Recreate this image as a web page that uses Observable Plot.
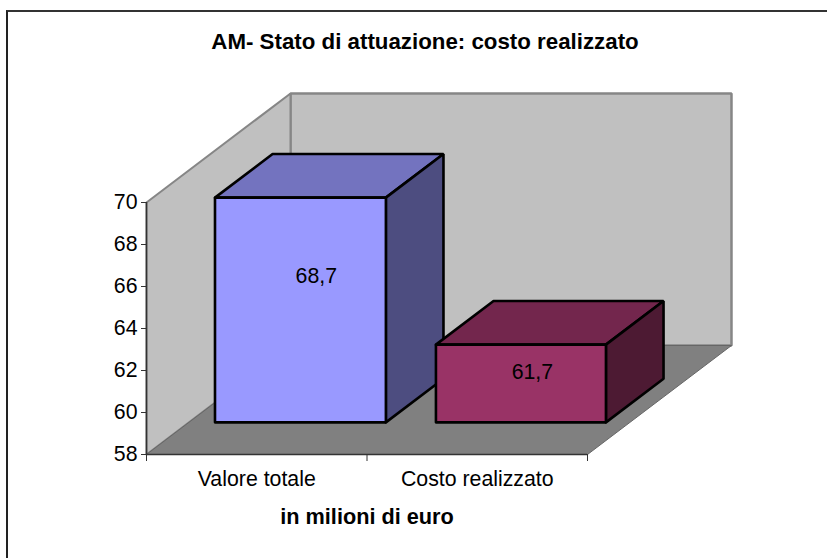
<!DOCTYPE html>
<html>
<head>
<meta charset="utf-8">
<script src="https://cdn.jsdelivr.net/npm/d3@7"></script>
<script src="https://cdn.jsdelivr.net/npm/@observablehq/plot@0.6"></script>
<style>
  html, body { margin: 0; padding: 0; background: #fff; overflow: hidden; }
  #box { position: absolute; left: 6px; top: 10px; right: -4px; bottom: -4px; border-left: 2px solid #222; border-top: 2px solid #333; }
  #chart { position: absolute; left: 0; top: 0; }
  svg { display: block; background: transparent !important; }
</style>
</head>
<body>
<div id="box"></div>
<div id="chart"></div>
<script>
const categories = ["Valore totale", "Costo realizzato"];
const values = [68.7, 61.7];
const yTicks = [58, 60, 62, 64, 66, 68, 70];
const xTicks = [0, 1, 2];
const title = "AM- Stato di attuazione: costo realizzato";
const xLabel = "in milioni di euro";

// Oblique projection: one unit of depth, in units of the x and y scales
const depthX = 0.653, depthY = 5.19;
const barDepth = [0.295, 0.695];
const barSpans = [[0.118, 0.893], [1.12, 1.891]];
const barLabelX = [0.77, 1.75];
const barLabelY = [66.48, 61.9];

const faces = [
  {front: "#9999ff", top: "#7373bf", side: "#4d4d80"},
  {front: "#993366", top: "#73264d", side: "#4d1a33"}
];

const P = (x, y, d) => ({x: x + d * depthX, y: y + d * depthY});
const poly = (pts, fill, stroke, strokeWidth) =>
  Plot.line([...pts, pts[0]], {x: "x", y: "y", fill, stroke, strokeWidth, strokeLinejoin: "miter", curve: "linear"});

const [d0, d1] = barDepth;
const marks = [
  // back wall, side wall, floor
  poly([P(0,58,1), P(0,70,1), P(2,70,1), P(2,58,1)], "#c0c0c0", "#868686", 2.5),
  poly([P(0,58,0), P(0,70,0), P(0,70,1), P(0,58,1)], "#c0c0c0", "#868686", 2),
  poly([P(0,58,0), P(0,58,1), P(2,58,1), P(2,58,0)], "#808080", "#666666", 1),
];

values.forEach((v, i) => {
  const [a, b] = barSpans[i];
  const c = faces[i];
  marks.push(
    poly([P(a,v,d0), P(a,v,d1), P(b,v,d1), P(b,v,d0)], c.top, "#000", 2.6),
    poly([P(b,58,d0), P(b,v,d0), P(b,v,d1), P(b,58,d1)], c.side, "#000", 2.6),
    poly([P(a,58,d0), P(a,v,d0), P(b,v,d0), P(b,58,d0)], c.front, "#000", 2.6)
  );
});

marks.push(
  Plot.text(values, {
    x: (d, i) => barLabelX[i], y: (d, i) => barLabelY[i],
    text: d => String(d).replace(".", ","), fontSize: 21.3, fill: "#000"
  }),
  Plot.ruleX([0], {y1: 58, y2: 70, stroke: "#333", strokeWidth: 1.5}),
  Plot.ruleY([58], {x1: 0, x2: 2, stroke: "#333", strokeWidth: 1.5}),
  Plot.axisY({ticks: yTicks, tickSize: 5, tickPadding: 4, fontSize: 21.3, tickFormat: d => String(d), label: null, stroke: "#333", color: "#000"}),
  Plot.axisX({ticks: xTicks, tickSize: 7, tickFormat: () => "", label: null, stroke: "#333"}),
  Plot.text(categories, {x: (d, i) => i + 0.5, y: 58, dy: 25, fontSize: 21.3, fill: "#000"}),
  Plot.text([xLabel], {x: 1, y: 58, dy: 63, fontSize: 21.7, fontWeight: "bold", fill: "#000"}),
  Plot.text([title], {x: 1, y: 70, dx: 58, dy: -161, fontSize: 22.3, fontWeight: "bold", fill: "#000"})
);

const chart = Plot.plot({
  width: 827,
  height: 558,
  marginLeft: 146,
  marginRight: 240,
  marginTop: 202,
  marginBottom: 104,
  style: {fontFamily: "'Liberation Sans', Arial, sans-serif", background: "transparent", overflow: "visible"},
  x: {type: "linear", domain: [0, 2], axis: null},
  y: {type: "linear", domain: [58, 70], axis: null},
  marks
});
document.getElementById("chart").appendChild(chart);
</script>
</body>
</html>
